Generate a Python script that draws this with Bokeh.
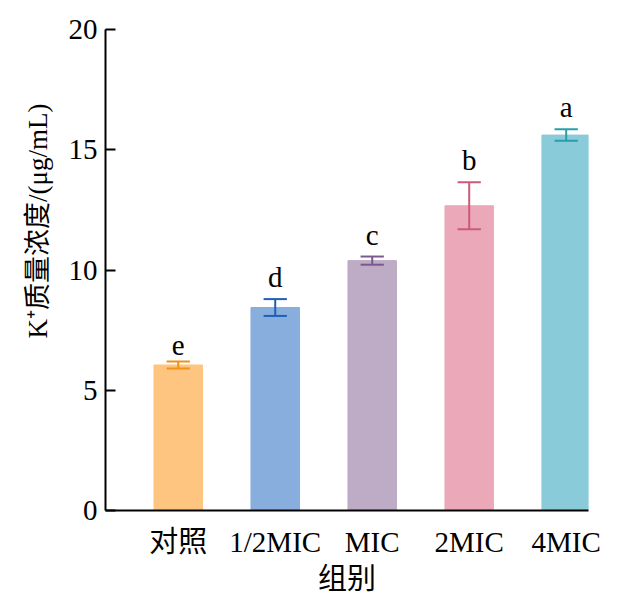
from bokeh.plotting import figure
from bokeh.models import ColumnDataSource, FixedTicker, Title
from bokeh.embed import file_html
from bokeh.resources import INLINE
from bokeh.core.properties import value

groups = ["对照", "1/2MIC", "MIC", "2MIC", "4MIC"]
means = [6.05, 8.44, 10.39, 12.67, 15.61]
errors = [0.15, 0.35, 0.17, 0.98, 0.24]
letters = ["e", "d", "c", "b", "a"]
bar_colors = ["#FDC57F", "#87AEDD", "#BEABC6", "#EAA8B8", "#89CBD8"]
err_colors = ["#F0921A", "#1F5FB5", "#7A5A8E", "#CC5A7C", "#2A9CAE"]
y_ticks = [0, 5, 10, 15, 20]

FONT = "Liberation Serif, Noto Sans CJK SC"
FS = "29px"

xs = list(range(len(groups)))
cap = 0.12
src = ColumnDataSource(dict(
    x=xs, top=means, color=bar_colors, ecolor=err_colors,
    lo=[m - e for m, e in zip(means, errors)],
    hi=[m + e for m, e in zip(means, errors)],
    cl=[x - cap for x in xs], cr=[x + cap for x in xs],
    letter=letters,
))

p = figure(width=625, height=597, output_backend="svg", toolbar_location=None,
           x_range=(-0.75, 4.23), y_range=(0, 20),
           min_border_left=105, min_border_right=37, min_border_top=29, min_border_bottom=86)
p.outline_line_color = None
p.grid.visible = False
p.background_fill_color = "white"

p.vbar(x="x", top="top", width=0.5, bottom=0, fill_color="color", line_color="color", source=src)
p.segment(x0="x", x1="x", y0="lo", y1="hi", line_color="ecolor", line_width=2, source=src)
p.segment(x0="cl", x1="cr", y0="lo", y1="lo", line_color="ecolor", line_width=2, source=src)
p.segment(x0="cl", x1="cr", y0="hi", y1="hi", line_color="ecolor", line_width=2, source=src)
p.text(x="x", y="hi", text="letter", source=src, text_align="center", text_baseline="bottom",
       y_offset=-6, text_font=value("Liberation Serif"), text_font_size=FS, text_color="black")

# y axis
p.yaxis.ticker = FixedTicker(ticks=y_ticks)
p.yaxis.major_tick_in = 10
p.yaxis.major_tick_out = 0
p.yaxis.minor_tick_line_color = None
p.yaxis.axis_line_width = 2
p.yaxis.major_tick_line_width = 2
p.yaxis.major_label_text_font = FONT
p.yaxis.major_label_text_font_size = FS
p.yaxis.major_label_standoff = 8
p.yaxis.major_label_text_color = "black"

# x axis
p.xaxis.ticker = FixedTicker(ticks=xs)
p.xaxis.major_label_overrides = {i: g for i, g in enumerate(groups)}
p.xaxis.major_tick_line_color = None
p.xaxis.minor_tick_line_color = None
p.xaxis.axis_line_width = 2
p.xaxis.major_label_text_font = FONT
p.xaxis.major_label_text_font_size = FS
p.xaxis.major_label_standoff = 9
p.xaxis.major_label_text_color = "black"
p.xaxis.axis_label = "组别"
p.xaxis.axis_label_text_font = FONT
p.xaxis.axis_label_text_font_size = FS
p.xaxis.axis_label_text_font_style = "normal"
p.xaxis.axis_label_standoff = 2
p.xaxis.axis_label_text_color = "black"

ytitle = Title(text="K⁺质量浓度/(μg/mL)", align="right", offset=74,
               text_font=FONT, text_font_size="27px", text_font_style="normal",
               text_color="black", standoff=26)
p.add_layout(ytitle, "left")

open("out.html", "w").write(file_html(p, INLINE))
